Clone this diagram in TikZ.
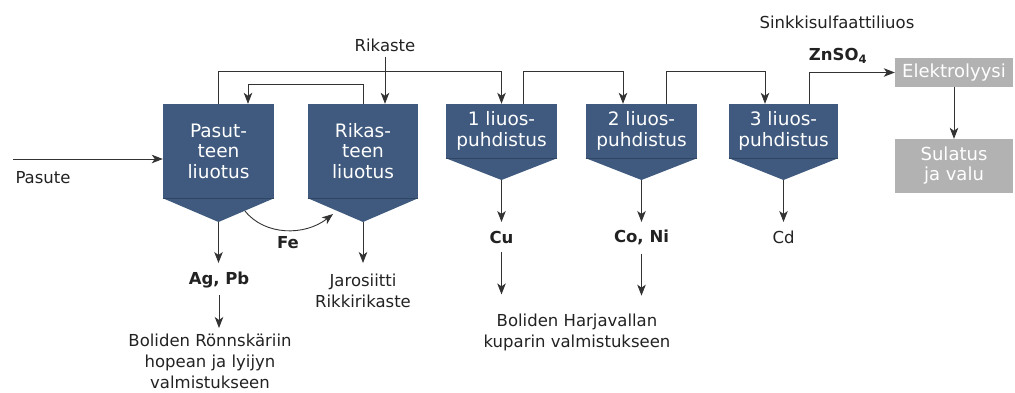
\documentclass[tikz,border=0pt]{standalone}
\usepackage{fontspec}
\setmainfont{DejaVu Sans}
\usetikzlibrary{arrows.meta,calc}
\definecolor{boxblue}{HTML}{3F5A7E}
\definecolor{boxline}{HTML}{2E4563}
\definecolor{boxgrey}{HTML}{B2B2B2}
\definecolor{linegrey}{HTML}{333333}
\definecolor{txt}{HTML}{222222}
\tikzset{
  bluebox/.style={fill=boxblue, draw=none, text=white, align=center, inner sep=0pt,
    font=\fontsize{18.5}{20.5}\selectfont},
  greybox/.style={fill=boxgrey, draw=none, text=white, align=center, inner sep=0pt,
    font=\fontsize{18}{20}\selectfont},
  sepline/.style={draw=boxline, line width=1pt},
  arr/.style={draw=linegrey, line width=0.9pt, -{Stealth[length=11pt,width=8.5pt,inset=3pt]}},
  lbl/.style={text=txt, align=center, inner sep=0pt, font=\fontsize{16.5}{21}\selectfont},
  blbl/.style={text=txt, align=center, inner sep=0pt, font=\fontsize{16.5}{18}\selectfont\bfseries},
}
\begin{document}
\begin{tikzpicture}[x=1pt,y=-1pt]
\useasboundingbox (0,0) rectangle (1015,392);

% blue leaching boxes
\node[bluebox, minimum width=111pt, minimum height=94pt] (p) at (218.5,151) {Pasut-\\teen\\liuotus};
\node[bluebox, minimum width=110pt, minimum height=94pt] (r) at (363,151) {Rikas-\\teen\\liuotus};
\node[bluebox, minimum width=111pt, minimum height=54pt] (l1) at (501.5,131) {1 liuos-\\puhdistus};
\node[bluebox, minimum width=111pt, minimum height=54pt] (l2) at (641.5,131) {2 liuos-\\puhdistus};
\node[bluebox, minimum width=109pt, minimum height=54pt] (l3) at (783.5,131) {3 liuos-\\puhdistus};

% funnel bottoms
\coordinate (tp) at (218.5,222);
\coordinate (tr) at (363,222);
\coordinate (t1) at (501.5,180);
\coordinate (t2) at (641.5,180);
\coordinate (t3) at (783.5,180);
\foreach \n/\t in {p/tp, r/tr, l1/t1, l2/t2, l3/t3}{
  \fill[boxblue] (\n.south west) -- (\n.south east) -- (\t) -- cycle;
  \draw[sepline] (\n.south west) -- (\n.south east);
}

% grey boxes
\node[greybox, minimum width=118pt, minimum height=29pt] (el) at (954,72.5) {Elektrolyysi};
\node[greybox, minimum width=118pt, minimum height=54pt] (su) at (954,166) {Sulatus\\ja valu};

% labels
\node[lbl] (pasute) at (43,178) {Pasute};
\coordinate (pin) at (13,159);
\node[lbl] (rik) at (385,45) {Rikaste};
\node[lbl] (sink) at (837,22) {Sinkkisulfaattiliuos};
\node[blbl] (zn) at (838,56) {ZnSO\textsubscript{4}};
\node[blbl] (fe) at (288,243) {Fe};
\node[blbl] (agpb) at (219,280) {Ag, Pb};
\node[lbl] (bol1) at (210,361.5) {Boliden Rönnskäriin\\hopean ja lyijyn\\valmistukseen};
\node[lbl] (jar) at (363,291) {Jarosiitti\\Rikkirikaste};
\node[blbl] (cu) at (501.5,237) {Cu};
\node[blbl] (coni) at (641.5,237) {Co, Ni};
\node[lbl] (bol2) at (577,332) {Boliden Harjavallan\\kuparin valmistukseen};
\node[lbl] (cd) at (783.5,237) {Cd};

% connectors
\draw[arr] (pin) -- (pin -| p.west);
\draw[arr] (p.north) -- ++(0,-32) -| (l1.north);
\draw[arr] (r.north) -- ++(0,-19) -| ([xshift=29.5pt]p.north);
\draw[arr] (rik.south) ++(0,5) -- (rik.south |- r.north);
\draw[arr] ([xshift=21.5pt]l1.north) -- ++(0,-32) -| ([xshift=-18.5pt]l2.north);
\draw[arr] ([xshift=24.5pt]l2.north) -- ++(0,-32) -| ([xshift=-18.5pt]l3.north);
\draw[arr] ([xshift=25.5pt]l3.north) |- (el.west);
\draw[arr] (el.south) -- (su.north);

\coordinate (fes) at (245,211);
\coordinate (fee) at (333,214);
\draw[arr] (fes) .. controls (265,236) and (305,236) .. (fee);

\draw[arr] (tp) -- ++(0,41);
\draw[arr] (agpb.south) ++(0,7) -- (219,328);
\draw[arr] (tr) -- ++(0,41);
\draw[arr] (t1) -- ++(0,42);
\draw[arr] (cu.south) ++(0,9) -- ++(0,42);
\draw[arr] (t2) -- ++(0,42);
\draw[arr] (coni.south) ++(0,9) -- ++(0,42);
\draw[arr] (t3) -- ++(0,42);
\end{tikzpicture}
\end{document}
